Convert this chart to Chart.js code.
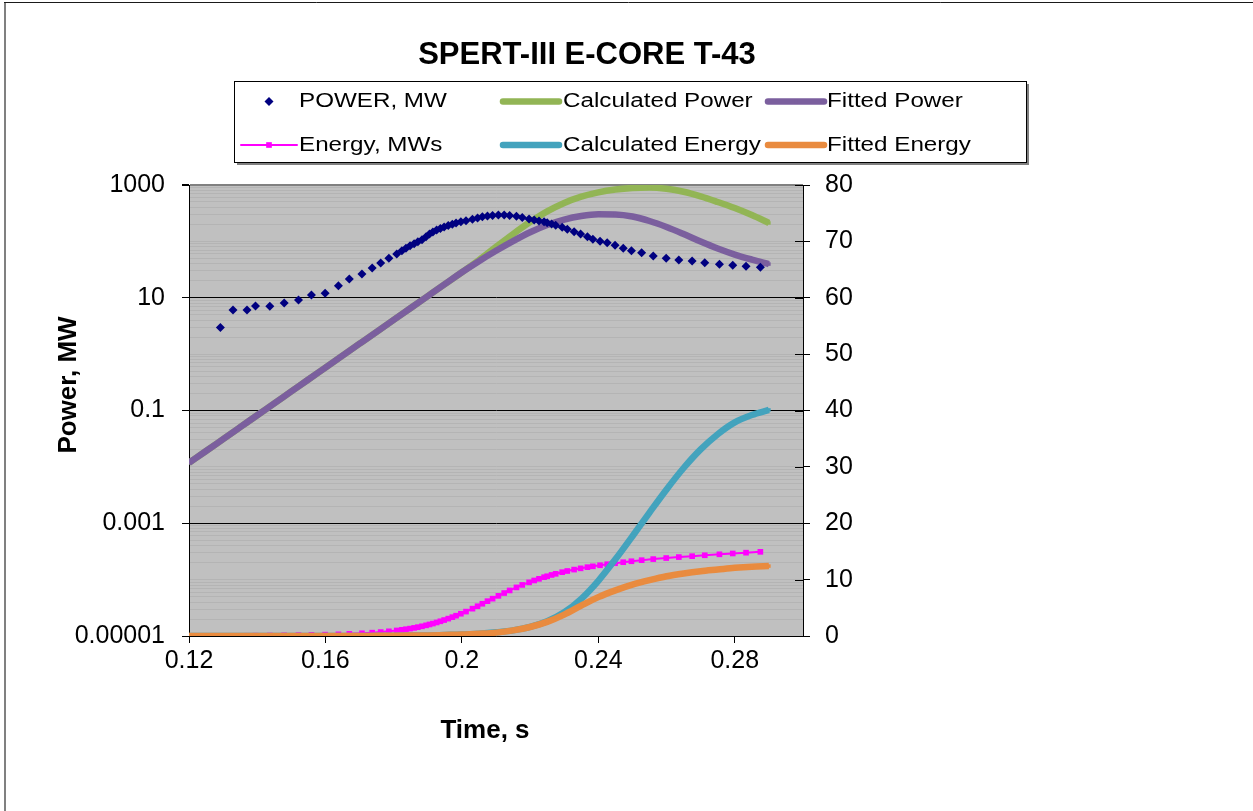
<!DOCTYPE html>
<html>
<head>
<meta charset="utf-8">
<title>SPERT-III E-CORE T-43</title>
<script src="https://cdn.jsdelivr.net/npm/chart.js@4.4.0/dist/chart.umd.min.js"></script>
<style>
  html, body { margin: 0; padding: 0; background: #fff; }
  #wrap { width: 1253px; height: 811px; position: relative; }
  canvas { display: block; }
</style>
</head>
<body>
<div id="wrap"><canvas id="chart" width="1253" height="811"></canvas></div>
<script>
// ---- Text ----
const chartTitle = 'SPERT-III E-CORE T-43';
const powerAxisTitle = 'Power, MW';
const timeAxisTitle = 'Time, s';

// ---- Axis ticks ----
const timeTickValues = [0.12, 0.16, 0.2, 0.24, 0.28];
const timeTickLabels = ['0.12', '0.16', '0.2', '0.24', '0.28'];
const powerTickValues = [0.00001, 0.001, 0.1, 10, 1000];
const powerTickLabels = ['0.00001', '0.001', '0.1', '10', '1000'];
const energyTickValues = [0, 10, 20, 30, 40, 50, 60, 70, 80];

// ---- Measured transient (s, MW, MWs) ----
const measuredTime = [
  0.1292, 0.1329, 0.1370, 0.1395, 0.1437, 0.1479, 0.1521, 0.1559, 0.1599, 0.1638,
  0.1670, 0.1707, 0.1737, 0.1762, 0.1786, 0.1809, 0.1824, 0.1836, 0.1848, 0.1860,
  0.1871, 0.1883, 0.1895, 0.1905, 0.1915, 0.1926, 0.1937, 0.1948, 0.1960, 0.1972,
  0.1983, 0.1997, 0.2012, 0.2031, 0.2046, 0.2060, 0.2075, 0.2090, 0.2107, 0.2124,
  0.2140, 0.2160, 0.2177, 0.2197, 0.2212, 0.2226, 0.2241, 0.2250, 0.2263, 0.2275,
  0.2294, 0.2309, 0.2329, 0.2348, 0.2368, 0.2384, 0.2405, 0.2426, 0.2449, 0.2473,
  0.2497, 0.2527, 0.2561, 0.2599, 0.2636, 0.2675, 0.2712, 0.2755, 0.2794, 0.2833, 0.2875
];
const measuredPower = [
  2.98, 6.05, 6.05, 7.12, 7.10, 8.05, 9.10, 11.2, 12.0, 16.3,
  21.5, 26.3, 33.7, 41.3, 50.0, 59.6, 68.3, 75.5, 83.7, 90.8,
  98.5, 107, 121, 135, 147, 159, 169, 180, 191, 201,
  212, 223, 233, 246, 260, 274, 282, 288, 293, 293,
  288, 279, 265, 249, 239, 230, 223, 214, 203, 193,
  178, 164, 148, 135, 121, 109, 101, 94.6, 85.1, 75.3,
  68.3, 62.9, 55.0, 50.0, 46.7, 44.8, 41.8, 39.2, 37.6, 36.1, 34.6
];
const measuredEnergy = [
  0.00, 0.02, 0.04, 0.06, 0.09, 0.12, 0.16, 0.20, 0.24, 0.30,
  0.38, 0.48, 0.59, 0.70, 0.83, 0.98, 1.09, 1.20, 1.31, 1.44,
  1.57, 1.72, 1.89, 2.05, 2.21, 2.40, 2.61, 2.83, 3.08, 3.34,
  3.60, 3.95, 4.33, 4.85, 5.28, 5.72, 6.18, 6.62, 7.12, 7.62,
  8.08, 8.62, 9.06, 9.52, 9.85, 10.14, 10.43, 10.60, 10.83, 11.03,
  11.32, 11.53, 11.78, 12.00, 12.21, 12.36, 12.55, 12.73, 12.91, 13.09,
  13.26, 13.45, 13.64, 13.83, 14.00, 14.16, 14.32, 14.49, 14.64, 14.78, 14.93
];

// ---- Point-kinetics model (s, MW, MWs) ----
const modelTime = [
  0.120, 0.125, 0.130, 0.135, 0.140, 0.145, 0.150, 0.155, 0.160, 0.165,
  0.170, 0.175, 0.180, 0.185, 0.190, 0.195, 0.200, 0.205, 0.210, 0.215,
  0.220, 0.225, 0.230, 0.235, 0.240, 0.245, 0.250, 0.255, 0.260, 0.265,
  0.270, 0.275, 0.280, 0.285, 0.290
];
const calculatedPower = [
  0.0118, 0.0191, 0.0311, 0.0506, 0.0823, 0.134, 0.218, 0.355, 0.577, 0.939,
  1.53, 2.49, 4.04, 6.58, 10.7, 17.4, 28.3, 46.5, 80, 135,
  220, 340, 480, 620, 740, 830, 885, 900, 855, 760,
  630, 500, 390, 293, 212
];
const fittedPower = [
  0.0118, 0.0191, 0.0311, 0.0506, 0.0823, 0.134, 0.218, 0.355, 0.577, 0.939,
  1.53, 2.49, 4.04, 6.58, 10.7, 17.4, 28.3, 44.5, 68, 101,
  145, 195, 244, 282, 302, 300, 276, 230, 180, 135,
  99.4, 74.7, 58.4, 47.6, 39.6
];
const calculatedEnergy = [
  0.0001, 0.0002, 0.0003, 0.0005, 0.0008, 0.0014, 0.0022, 0.0036, 0.006, 0.01,
  0.016, 0.026, 0.04, 0.07, 0.11, 0.18, 0.25, 0.4, 0.65, 1.0,
  1.6, 2.6, 4.2, 6.6, 9.8, 13.6, 17.7, 21.9, 26.0, 29.8,
  33.1, 35.8, 37.9, 39.2, 40.1
];
const fittedEnergy = [
  0.0001, 0.0002, 0.0003, 0.0005, 0.0008, 0.0014, 0.0022, 0.0036, 0.006, 0.01,
  0.016, 0.026, 0.04, 0.07, 0.11, 0.18, 0.25, 0.4, 0.6, 1.0,
  1.6, 2.5, 3.8, 5.4, 6.9, 8.1, 9.1, 9.9, 10.6, 11.1,
  11.5, 11.8, 12.1, 12.3, 12.4
];

// ---- Drawing setup ----
const FONT = "'Liberation Sans', Arial, Helvetica, sans-serif";
const toPoints = (xs, ys) => xs.map((x, i) => ({ x: x, y: ys[i] }));
const sameValue = (a, b) => Math.abs(a - b) <= Math.abs(b) * 1e-6;

// minor grid lines at 1..9 x 10^n across the power axis range
const powerGridValues = [];
for (let e = -5; e <= 2; e++) {
  for (let m = 1; m <= 9; m++) powerGridValues.push(Number((m * Math.pow(10, e)).toPrecision(6)));
}
powerGridValues.push(1000);
const isPowerMajor = v => powerTickValues.some(t => sameValue(v, t));

const lineSeries = (label, xs, ys, axis, color, width, order) => ({
  label, data: toPoints(xs, ys), yAxisID: axis,
  borderColor: color, backgroundColor: color, borderWidth: width,
  pointStyle: 'rect', pointRadius: 2.5, pointBorderWidth: 0,
  pointBackgroundColor: color, cubicInterpolationMode: 'monotone', order
});

const datasets = [
  {
    label: 'POWER, MW', data: toPoints(measuredTime, measuredPower), yAxisID: 'y',
    showLine: false, pointStyle: 'rectRot', pointRadius: 4.5, pointBorderWidth: 0,
    borderColor: '#000080', backgroundColor: '#000080', pointBackgroundColor: '#000080', order: 0
  },
  lineSeries('Calculated Power', modelTime, calculatedPower, 'y', '#92B555', 6.5, 6),
  lineSeries('Fitted Power', modelTime, fittedPower, 'y', '#7B5F9E', 6.5, 5),
  {
    label: 'Energy, MWs', data: toPoints(measuredTime, measuredEnergy), yAxisID: 'y1',
    borderColor: '#FF00FF', backgroundColor: '#FF00FF', borderWidth: 2,
    pointStyle: 'rect', pointRadius: 4, pointBorderWidth: 0, pointBackgroundColor: '#FF00FF',
    tension: 0, order: 4
  },
  lineSeries('Calculated Energy', modelTime, calculatedEnergy, 'y1', '#43A3BD', 6.5, 3),
  lineSeries('Fitted Energy', modelTime, fittedEnergy, 'y1', '#E98B3F', 6.5, 2)
];

// legend: three columns, two rows, items in dataset order
const legendBox = { x: 234, y: 81, w: 792, h: 81 };
const legendCols = [{ sym: 241, text: 299 }, { sym: 503, text: 563 }, { sym: 768, text: 827 }];
const legendRows = [101.5, 145];
const legendSymbolWidth = 56;

function drawMarker(ctx, style, r, x, y, color) {
  ctx.fillStyle = color;
  ctx.beginPath();
  if (style === 'rectRot') {
    ctx.moveTo(x, y - r); ctx.lineTo(x + r, y); ctx.lineTo(x, y + r); ctx.lineTo(x - r, y);
    ctx.closePath();
  } else {
    const s = r * Math.SQRT1_2;
    ctx.rect(x - s, y - s, 2 * s, 2 * s);
  }
  ctx.fill();
}

const decorations = {
  id: 'decorations',
  beforeDraw(chart) {
    const { ctx, chartArea: a } = chart;
    ctx.save();
    ctx.fillStyle = '#ffffff';
    ctx.fillRect(0, 0, chart.width, chart.height);
    // chart frame (left and top edges)
    ctx.strokeStyle = '#808080';
    ctx.lineWidth = 2;
    ctx.beginPath(); ctx.moveTo(5, chart.height); ctx.lineTo(5, 2); ctx.stroke();
    ctx.strokeStyle = '#1a1a1a';
    ctx.lineWidth = 1;
    ctx.beginPath(); ctx.moveTo(4, 2.5); ctx.lineTo(chart.width, 2.5); ctx.stroke();
    // plot area fill
    ctx.fillStyle = '#c0c0c0';
    ctx.fillRect(a.left, a.top, a.right - a.left, a.bottom - a.top);
    ctx.restore();
  },
  afterDraw(chart) {
    const { ctx, chartArea: a } = chart;
    ctx.save();

    // inner half of the cross tick marks on the energy axis
    const y1 = chart.scales.y1;
    ctx.strokeStyle = '#000';
    ctx.lineWidth = 1;
    y1.ticks.forEach(t => {
      const py = Math.round(y1.getPixelForValue(t.value)) + 0.5;
      ctx.beginPath(); ctx.moveTo(a.right - 8, py); ctx.lineTo(a.right, py); ctx.stroke();
    });

    // titles
    ctx.fillStyle = '#000';
    ctx.textAlign = 'center';
    ctx.textBaseline = 'alphabetic';
    ctx.font = 'bold 31px ' + FONT;
    ctx.fillText(chartTitle, 587, 64);
    ctx.font = 'bold 26px ' + FONT;
    ctx.fillText(timeAxisTitle, 485, 738);
    ctx.save();
    ctx.translate(76, 385);
    ctx.rotate(-Math.PI / 2);
    ctx.fillText(powerAxisTitle, 0, 0);
    ctx.restore();

    // legend box with drop shadow
    ctx.fillStyle = '#808080';
    ctx.fillRect(legendBox.x + 3, legendBox.y + 3, legendBox.w, legendBox.h);
    ctx.fillStyle = '#ffffff';
    ctx.fillRect(legendBox.x, legendBox.y, legendBox.w, legendBox.h);
    ctx.strokeStyle = '#000';
    ctx.lineWidth = 1;
    ctx.strokeRect(legendBox.x + 0.5, legendBox.y + 0.5, legendBox.w, legendBox.h);

    chart.data.datasets.forEach((ds, i) => {
      const col = legendCols[i % 3];
      const y = legendRows[Math.floor(i / 3)];
      const x0 = col.sym, x1 = col.sym + legendSymbolWidth;
      if (ds.showLine !== false) {
        ctx.strokeStyle = ds.borderColor;
        ctx.lineWidth = ds.borderWidth;
        ctx.lineCap = 'round';
        ctx.beginPath(); ctx.moveTo(x0, y); ctx.lineTo(x1, y); ctx.stroke();
      }
      if (ds.pointRadius > 0) {
        drawMarker(ctx, ds.pointStyle, ds.pointRadius, (x0 + x1) / 2, y, ds.pointBackgroundColor);
      }
      ctx.save();
      ctx.translate(col.text, y);
      ctx.scale(1.21, 1);
      ctx.fillStyle = '#000';
      ctx.textAlign = 'left';
      ctx.textBaseline = 'middle';
      ctx.font = '20px ' + FONT;
      ctx.fillText(ds.label, 0, 0);
      ctx.restore();
    });
    ctx.restore();
  }
};

const tickFont = { family: FONT, size: 25 };

new Chart(document.getElementById('chart'), {
  type: 'line',
  data: { datasets },
  plugins: [decorations],
  options: {
    responsive: false,
    animation: false,
    events: [],
    layout: { padding: { left: 0, right: 350, top: 185, bottom: 115 } },
    plugins: {
      legend: { display: false },
      title: { display: false },
      tooltip: { enabled: false }
    },
    scales: {
      x: {
        type: 'linear', position: 'bottom', min: 0.12, max: 0.3,
        afterFit(s) { s.height = 60; },
        afterBuildTicks(s) { s.ticks = timeTickValues.map(v => ({ value: v })); },
        ticks: {
          autoSkip: false, maxRotation: 0, padding: 3, color: '#000', font: tickFont,
          callback: v => { const i = timeTickValues.findIndex(t => sameValue(v, t)); return i >= 0 ? timeTickLabels[i] : ''; }
        },
        grid: { drawOnChartArea: false, tickLength: 7, color: '#000', lineWidth: 1 },
        border: { color: '#000', width: 1 }
      },
      y: {
        type: 'logarithmic', position: 'left', min: 0.00001, max: 1000,
        afterFit(s) { s.width = 189; },
        afterBuildTicks(s) { s.ticks = powerGridValues.map(v => ({ value: v })); },
        ticks: {
          autoSkip: false, padding: 17, color: '#000', font: tickFont,
          callback: v => { const i = powerTickValues.findIndex(t => sameValue(v, t)); return i >= 0 ? powerTickLabels[i] : ''; }
        },
        grid: {
          lineWidth: c => (c.tick && sameValue(c.tick.value, 1000)) ? 2 : 1,
          color: c => {
            const v = c.tick ? c.tick.value : 0;
            if (sameValue(v, 1000)) return '#808080';
            return isPowerMajor(v) ? '#000000' : '#b4b4b4';
          },
          tickColor: c => (c.tick && isPowerMajor(c.tick.value)) ? '#000000' : 'rgba(0,0,0,0)',
          tickLength: 7
        },
        border: { color: '#000', width: 1 }
      },
      y1: {
        type: 'linear', position: 'right', min: 0, max: 80,
        afterFit(s) { s.width = 100; },
        afterBuildTicks(s) { s.ticks = energyTickValues.map(v => ({ value: v })); },
        ticks: { autoSkip: false, padding: 15, color: '#000', font: tickFont },
        grid: { drawOnChartArea: false, tickLength: 7, color: '#000', lineWidth: 1 },
        border: { color: '#000', width: 1 }
      }
    }
  }
});
</script>
</body>
</html>
